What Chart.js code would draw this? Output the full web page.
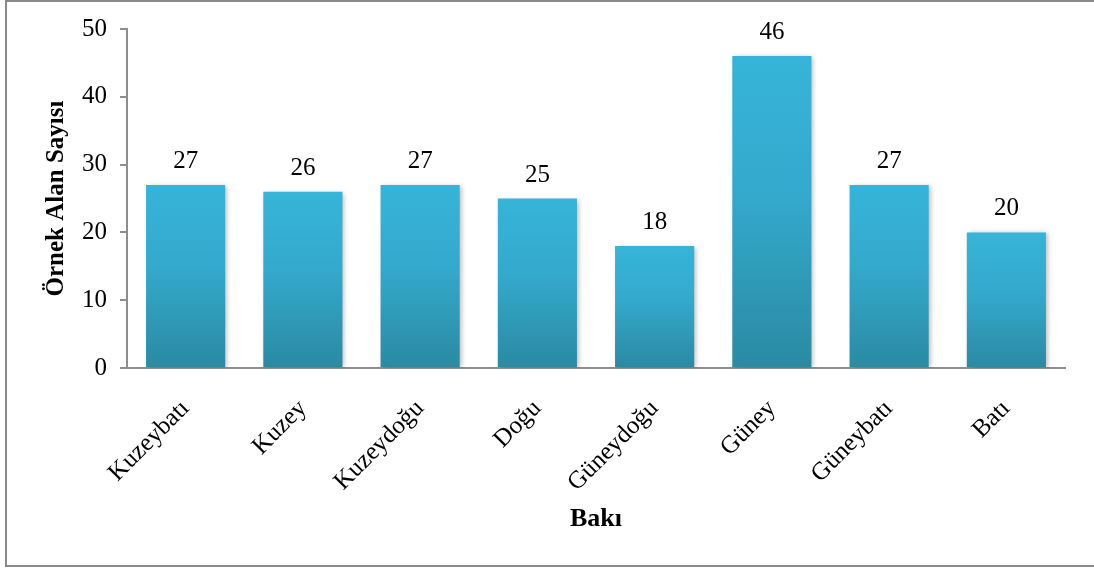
<!DOCTYPE html>
<html>
<head>
<meta charset="utf-8">
<script src="https://cdn.jsdelivr.net/npm/chart.js@4"></script>
<style>
    html, body { margin: 0; padding: 0; background: #fff; overflow: hidden; }
    #wrap { position: absolute; left: 0; top: 0; width: 1094px; height: 569px; }
</style>
</head>
<body>
<div id="wrap"><canvas id="myChart"></canvas></div>
<script>
    // Aspect categories and sample plot counts
    const bakiLabels = ['Kuzeybatı', 'Kuzey', 'Kuzeydoğu', 'Doğu', 'Güneydoğu', 'Güney', 'Güneybatı', 'Batı'];
    const alanSayisi = [27, 26, 27, 25, 18, 46, 27, 20];
    const yTicks = [0, 10, 20, 30, 40, 50];

    const serif = "'Liberation Serif', 'Times New Roman', serif";

    // soft drop shadow behind the bars
    const barShadow = {
        id: 'barShadow',
        beforeDatasetsDraw(chart) {
            const c = chart.ctx;
            c.save();
            c.shadowColor = 'rgba(0, 0, 0, 0.28)';
            c.shadowBlur = 5;
            c.shadowOffsetX = 2;
            c.shadowOffsetY = 1;
        },
        afterDatasetsDraw(chart) {
            chart.ctx.restore();
        }
    };

    // value printed above each bar
    const valueLabels = {
        id: 'valueLabels',
        afterDatasetsDraw(chart) {
            const c = chart.ctx;
            const meta = chart.getDatasetMeta(0);
            c.save();
            c.font = '25px ' + serif;
            c.fillStyle = '#000';
            c.textAlign = 'center';
            c.textBaseline = 'alphabetic';
            meta.data.forEach(function (bar, i) {
                c.fillText(String(alanSayisi[i]), bar.x, bar.y - 17);
            });
            c.restore();
        }
    };

    // grey frame: top, left and bottom edges (right edge runs off the page)
    const frame = {
        id: 'frame',
        beforeDraw(chart) {
            const c = chart.ctx;
            c.save();
            c.strokeStyle = '#8a8a8a';
            c.lineWidth = 2;
            c.beginPath();
            c.moveTo(chart.width + 5, 1);
            c.lineTo(6, 1);
            c.lineTo(6, 566);
            c.lineTo(chart.width + 5, 566);
            c.stroke();
            c.restore();
        }
    };

    function barGradient(context) {
        const chart = context.chart;
        if (!chart.chartArea) return '#34afd3';
        const y = chart.scales.y;
        const top = y.getPixelForValue(context.raw);
        const bottom = y.getPixelForValue(0);
        const g = chart.ctx.createLinearGradient(0, top, 0, bottom);
        g.addColorStop(0, '#37b4d9');
        g.addColorStop(0.45, '#33a9cc');
        g.addColorStop(1, '#2a8aa2');
        return g;
    }

    const ctx = document.getElementById('myChart').getContext('2d');
    const myChart = new Chart(ctx, {
        type: 'bar',
        data: {
            labels: bakiLabels,
            datasets: [{
                label: 'Örnek Alan Sayısı',
                data: alanSayisi,
                backgroundColor: barGradient,
                borderWidth: 0,
                barPercentage: 0.675,
                categoryPercentage: 1
            }]
        },
        options: {
            responsive: true,
            maintainAspectRatio: false,
            animation: false,
            layout: { padding: { top: 29, right: 29, left: 0, bottom: 0 } },
            plugins: {
                legend: { display: false },
                tooltip: { enabled: false }
            },
            scales: {
                x: {
                    grid: { display: false },
                    border: { display: true, color: '#8e8e8e', width: 2 },
                    ticks: {
                        color: '#000',
                        font: { family: serif, size: 25 },
                        minRotation: 45,
                        maxRotation: 45,
                        padding: 18,
                        autoSkip: false
                    },
                    title: {
                        display: true,
                        text: 'Bakı',
                        color: '#000',
                        font: { family: serif, size: 26, weight: 'bold' },
                        padding: { top: 0, bottom: 34 }
                    },
                    afterFit: function (scale) { scale.height = 201; }
                },
                y: {
                    min: 0,
                    max: 50,
                    afterBuildTicks: function (scale) {
                        scale.ticks = yTicks.map(function (v) { return { value: v }; });
                    },
                    grid: {
                        display: true,
                        drawOnChartArea: false,
                        drawTicks: true,
                        tickLength: 7,
                        color: '#8e8e8e',
                        lineWidth: 2
                    },
                    border: { display: true, color: '#8e8e8e', width: 2 },
                    ticks: {
                        color: '#000',
                        font: { family: serif, size: 25 },
                        padding: 13
                    },
                    title: {
                        display: true,
                        text: 'Örnek Alan Sayısı',
                        color: '#000',
                        font: { family: serif, size: 25, weight: 'bold' },
                        padding: { top: 42, bottom: 0 }
                    },
                    afterFit: function (scale) { scale.width = 127; }
                }
            }
        },
        plugins: [frame, barShadow, valueLabels]
    });
</script>
</body>
</html>
